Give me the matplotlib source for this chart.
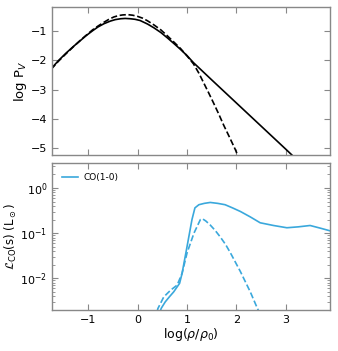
import matplotlib
matplotlib.use("Agg")
import matplotlib.pyplot as plt

# top panel: log P_V vs s = log(rho/rho0)
s_pl = [-1.75, -1.60, -1.45, -1.30, -1.18, -1.05, -0.91, -0.80, -0.68, -0.55, -0.45, -0.34,
        -0.25, -0.15, -0.05, 0.05, 0.20, 0.33, 0.47, 0.60, 0.73, 0.87, 1.00, 1.13,
        1.50, 2.00, 2.50, 3.00, 3.20]
logp_pl = [-2.29, -2.01, -1.76, -1.53, -1.36, -1.17, -0.99, -0.86, -0.75, -0.66, -0.61, -0.58,
           -0.57, -0.58, -0.60, -0.64, -0.76, -0.89, -1.05, -1.23, -1.42, -1.63, -1.84, -2.08,
           -2.67, -3.46, -4.25, -5.04, -5.36]

s_ln = [-1.75, -1.60, -1.45, -1.30, -1.18, -1.05, -0.91, -0.80, -0.68, -0.58, -0.48, -0.38,
        -0.30, -0.20, -0.10, 0.00, 0.10, 0.20, 0.33, 0.47, 0.60, 0.73, 0.87, 1.00,
        1.13, 1.24, 1.34, 1.44, 1.54, 1.64, 1.74, 1.86, 1.98, 2.05]
logp_ln = [-2.31, -2.03, -1.78, -1.54, -1.35, -1.16, -0.96, -0.83, -0.70, -0.60, -0.52, -0.47,
           -0.45, -0.44, -0.46, -0.50, -0.56, -0.65, -0.79, -0.96, -1.16, -1.37, -1.60, -1.85,
           -2.12, -2.44, -2.78, -3.12, -3.47, -3.83, -4.21, -4.63, -5.06, -5.35]

# bottom panel: CO(1-0) luminosity
s_co = [0.45, 0.48, 0.56, 0.65, 0.73, 0.85, 0.90, 1.00, 1.10, 1.16, 1.24, 1.35, 1.47,
        1.62, 1.77, 1.92, 2.08, 2.28, 2.48, 2.75, 3.02, 3.25, 3.49, 3.70, 3.90]
L_co = [10**-2.75, 10**-2.66, 10**-2.52, 10**-2.40, 10**-2.30, 10**-2.11, 10**-1.89, 10**-1.30,
        10**-0.70, 10**-0.44, 10**-0.37, 10**-0.34, 10**-0.32, 10**-0.34, 10**-0.37, 10**-0.44,
        10**-0.52, 10**-0.64, 10**-0.77, 10**-0.83, 10**-0.88, 10**-0.86, 10**-0.83, 10**-0.89,
        10**-0.95]

s_co_ln = [0.40, 0.41, 0.53, 0.67, 0.80, 0.90, 1.00, 1.14, 1.27, 1.31, 1.38, 1.47, 1.57,
           1.67, 1.78, 1.88, 2.08, 2.28, 2.41, 2.46]
L_co_ln = [10**-2.72, 10**-2.67, 10**-2.41, 10**-2.26, 10**-2.15, 10**-1.89, 10**-1.44, 10**-1.00,
           10**-0.70, 10**-0.68, 10**-0.73, 10**-0.82, 10**-0.94, 10**-1.08, 10**-1.25, 10**-1.44,
           10**-1.85, 10**-2.30, 10**-2.63, 10**-2.75]

blue = "#3aa8dc"
grey = "#888888"

fig = plt.figure(figsize=(3.38, 3.51), dpi=100)
ax1 = fig.add_axes([0.154, 0.558, 0.822, 0.422])
ax2 = fig.add_axes([0.154, 0.117, 0.822, 0.419])

ax1.plot(s_pl, logp_pl, color="black", lw=1.2)
ax1.plot(s_ln, logp_ln, color="black", lw=1.2, ls="--")
ax1.set_xlim(-1.73, 3.89)
ax1.set_ylim(-5.24, -0.18)
ax1.set_yticks([-1, -2, -3, -4, -5])
ax1.set_xticks([-1, 0, 1, 2, 3])
ax1.set_xticklabels([])
ax1.set_ylabel(r"log P$_V$", fontsize=9.5, labelpad=1)

ax2.plot(s_co, L_co, color=blue, lw=1.2, label="CO(1-0)")
ax2.plot(s_co_ln, L_co_ln, color=blue, lw=1.2, ls="--")
ax2.set_yscale("log")
ax2.set_xlim(-1.73, 3.89)
ax2.set_ylim(2e-3, 3.6)
ax2.set_xticks([-1, 0, 1, 2, 3])
ax2.set_xlabel(r"log($\rho/\rho_0$)", fontsize=9, labelpad=1)
ax2.set_ylabel(r"$\mathcal{L}_{\rm CO}$(s) (L$_\odot$)", fontsize=8.5, labelpad=1)
ax2.legend(loc="upper left", frameon=False, fontsize=6.5, handlelength=1.8,
           handletextpad=0.6, borderaxespad=0.7)

for ax in (ax1, ax2):
    ax.tick_params(which="both", direction="in", top=True, right=True, labelsize=8,
                   color=grey)
    ax.tick_params(which="major", length=4)
    ax.tick_params(which="minor", length=2)
    for sp in ax.spines.values():
        sp.set_color(grey)
        sp.set_linewidth(1.0)

fig.savefig("out.png", dpi=100)
